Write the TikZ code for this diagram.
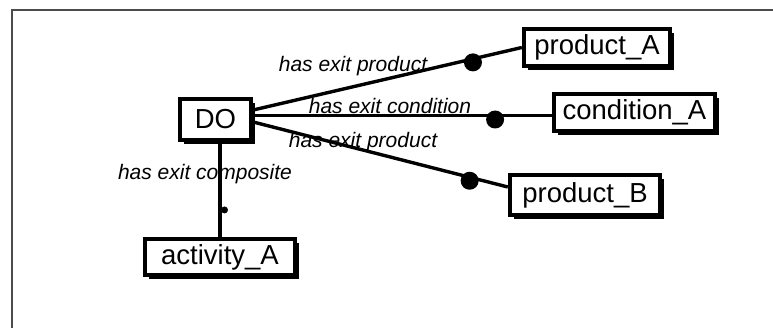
\documentclass[tikz,border=0pt]{standalone}
\usepackage{fontspec}
\setmainfont{Liberation Sans}
\usetikzlibrary{shadows,calc}
\begin{document}
\begin{tikzpicture}[x=1pt,y=-1pt,
  box/.style={draw=black, line width=3.8pt, fill=white, inner sep=0pt,
    font=\fontsize{27.5}{30}\selectfont,
    drop shadow={shadow xshift=4pt, shadow yshift=-4pt, fill=black, opacity=1}},
  conn/.style={line width=3.4pt},
  lbl/.style={font=\fontsize{21}{24}\selectfont\itshape, inner sep=0pt},
  bigdot/.style={circle, fill=black, minimum size=18pt, inner sep=0pt},
  smalldot/.style={circle, fill=black, minimum size=7pt, inner sep=0pt},
  frame/.style={line width=2pt, draw=black!70}
]
\useasboundingbox (0,0) rectangle (773,328);
\draw[frame] (11.5,328) -- (11.5,10) -- (773,10);

\node[box, minimum width=71.5pt, minimum height=41.5pt] (DO) at (215.5,119.5) {DO};
\node[box, minimum width=146.5pt, minimum height=37.5pt] (pA) at (597,47.5) {product\_A};
\node[box, minimum width=161.5pt, minimum height=37.5pt] (cA) at (634.5,112.5) {condition\_A};
\node[box, minimum width=150.5pt, minimum height=40.5pt] (pB) at (585,195) {product\_B};
\node[box, minimum width=150.5pt, minimum height=36.5pt] (aA) at (220,257) {activity\_A};

\node[lbl] (l1) at (353,66) {has exit product};
\node[lbl] (l2) at (390,106) {has exit condition};
\node[lbl] (l3) at (363,142) {has exit product};
\node[lbl] (l4) at (205,174) {has exit composite};

\draw[conn] ([yshift=9.5pt]DO.east) -- (pA.west)
  node[bigdot, pos=0.818, yshift=-3.5pt] (d1) {};
\draw[conn] ([yshift=-3pt]DO.east |- cA.west) -- ([yshift=-3pt]cA.west)
  node[bigdot, pos=0.81, yshift=-4pt] (d2) {};
\draw[conn] ([yshift=-2.5pt]DO.east) -- ([yshift=8pt]pB.west)
  node[bigdot, pos=0.85, yshift=-3.5pt] (d3) {};
\draw[conn] (aA.north) -- (aA.north |- DO.south)
  node[smalldot, pos=0.284, xshift=4.5pt] (d4) {};
\end{tikzpicture}
\end{document}
